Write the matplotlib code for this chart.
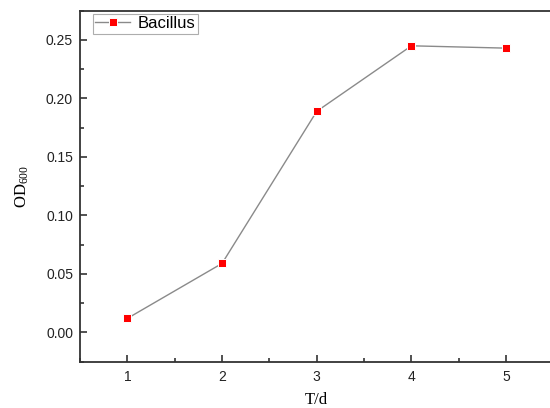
import matplotlib
matplotlib.use("Agg")
import matplotlib.pyplot as plt
from matplotlib.ticker import MultipleLocator

days = [1, 2, 3, 4, 5]
od600 = [0.012, 0.059, 0.189, 0.245, 0.243]
series_name = "Bacillus"
xticks = [1, 2, 3, 4, 5]
yticks = [0.00, 0.05, 0.10, 0.15, 0.20, 0.25]

plt.rcParams['font.family'] = ['Liberation Sans', 'DejaVu Sans']
plt.rcParams['mathtext.fontset'] = 'custom'
plt.rcParams['mathtext.rm'] = 'Liberation Serif'
plt.rcParams['mathtext.it'] = 'Liberation Serif:italic'

fig = plt.figure(figsize=(5.5, 4.08), dpi=100)
W, H = 550, 408
left, right, top, bottom = 80, 553.5, 10.7, 361.7
ax = fig.add_axes([left / W, 1 - bottom / H, (right - left) / W, (bottom - top) / H])

ax.plot(days, od600, color='#8a8a8a', lw=1.0, marker='s', markersize=5.8,
        markerfacecolor='#ff0000', markeredgecolor='white', markeredgewidth=0.7,
        label=series_name)

ax.set_xlim(0.5, 5.5)
ax.set_ylim(-0.025, 0.275)
ax.set_xticks(xticks)
ax.set_yticks(yticks)
ax.set_yticklabels([f"{v:.2f}" for v in yticks])
ax.xaxis.set_minor_locator(MultipleLocator(0.5))
ax.yaxis.set_minor_locator(MultipleLocator(0.025))
ax.tick_params(which='major', direction='in', length=5, width=1.1, labelsize=10, colors='#222222', pad=6)
ax.tick_params(which='minor', direction='in', length=3, width=1.1, colors='#222222')
ax.tick_params(axis='y', pad=5)
for s in ax.spines.values():
    s.set_linewidth(1.3)
    s.set_color('#333333')

ax.set_xlabel('T/d', family='Liberation Serif', fontsize=12, labelpad=6)
ax.set_ylabel(r'$\mathrm{OD}_{600}$', fontsize=12, labelpad=11)

leg = ax.legend(loc='upper left', bbox_to_anchor=(0.0268, 0.9915), fontsize=12,
                frameon=True, fancybox=False, edgecolor='#999999', borderpad=0.15,
                handlelength=2.1, handletextpad=0.45, borderaxespad=0.0)
leg.get_frame().set_linewidth(0.8)

fig.savefig('out.png', dpi=100)
